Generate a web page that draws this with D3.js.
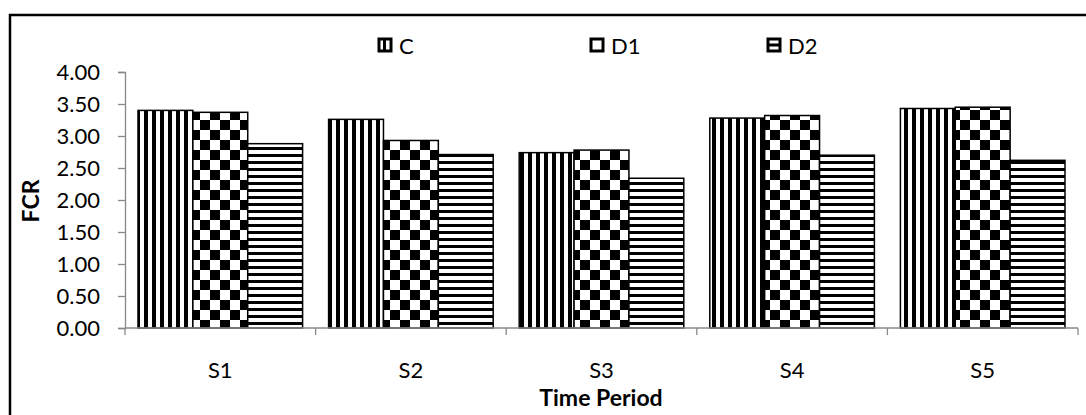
<!DOCTYPE html>
<html><head><meta charset="utf-8">
<script src="https://cdn.jsdelivr.net/npm/d3@7"></script>
<style>body{margin:0;background:#fff;} svg{display:block;font-family:Lato,"Open Sans",sans-serif;}</style>
</head><body>
<svg id="c" width="1086" height="415"></svg>
<script>
const categories = ["S1","S2","S3","S4","S5"];
const seriesNames = ["C","D1","D2"];
const C  = [3.40, 3.26, 2.74, 3.28, 3.43];
const D1 = [3.37, 2.93, 2.78, 3.32, 3.45];
const D2 = [2.88, 2.71, 2.34, 2.70, 2.62];
const yTicks = [0,0.5,1,1.5,2,2.5,3,3.5,4];
const values = [C, D1, D2];

const FS = 22;
const svg = d3.select("#c");
const defs = svg.append("defs");
const pv = defs.append("pattern").attr("id","pv").attr("patternUnits","userSpaceOnUse").attr("width",8).attr("height",8);
pv.append("rect").attr("width",8).attr("height",8).attr("fill","#fff");
pv.append("rect").attr("x",0).attr("width",4).attr("height",8).attr("fill","#000");
const pc = defs.append("pattern").attr("id","pc").attr("patternUnits","userSpaceOnUse").attr("width",20).attr("height",20);
pc.append("rect").attr("width",20).attr("height",20).attr("fill","#fff");
pc.append("rect").attr("x",0).attr("y",0).attr("width",10).attr("height",10).attr("fill","#000");
pc.append("rect").attr("x",10).attr("y",10).attr("width",10).attr("height",10).attr("fill","#000");
const ph = defs.append("pattern").attr("id","ph").attr("patternUnits","userSpaceOnUse").attr("width",7).attr("height",7);
ph.append("rect").attr("width",7).attr("height",7).attr("fill","#fff");
ph.append("rect").attr("y",0).attr("width",7).attr("height",3).attr("fill","#000");
const fills = ["url(#pv)","url(#pc)","url(#ph)"];

svg.append("rect").attr("x",10).attr("y",15).attr("width",1090).attr("height",420)
  .attr("fill","none").attr("stroke","#000").attr("stroke-width",2.5);

const pLeft=125, pRight=1078, pTop=72, pBottom=328;
const x = d3.scaleBand().domain(categories).range([pLeft,pRight]).paddingInner(0).paddingOuter(0);
const x1 = d3.scaleBand().domain(seriesNames).range([0,x.bandwidth()]).paddingOuter(0.237).paddingInner(0);
const y = d3.scaleLinear().domain([0,4]).range([pBottom,pTop]);

categories.forEach((cat,i)=>{
  seriesNames.forEach((s,j)=>{
    svg.append("rect")
      .attr("x", x(cat)+x1(s)).attr("y", y(values[j][i]))
      .attr("width", x1.bandwidth()).attr("height", y(0)-y(values[j][i]))
      .attr("fill", fills[j]).attr("stroke","#000").attr("stroke-width",1.5);
  });
});

const ya = svg.append("g").attr("transform",`translate(${pLeft},0)`)
  .call(d3.axisLeft(y).tickValues(yTicks).tickFormat(d3.format(".2f")).tickSize(7).tickPadding(18));
ya.select(".domain").attr("stroke","#888").attr("stroke-width",1.3);
ya.selectAll(".tick line").attr("stroke","#888").attr("stroke-width",1.3);
ya.selectAll("text").attr("font-size",FS).attr("fill","#000").attr("font-family","Lato,'Open Sans',sans-serif");

const xa = svg.append("g").attr("transform",`translate(0,${pBottom})`);
xa.append("line").attr("x1",pLeft).attr("x2",pRight).attr("y1",0).attr("y2",0).attr("stroke","#888").attr("stroke-width",1.3);
const bounds = categories.map(c=>x(c)).concat([pRight]);
xa.selectAll("line.tk").data(bounds).enter().append("line").attr("class","tk")
  .attr("x1",d=>d).attr("x2",d=>d).attr("y1",0).attr("y2",7).attr("stroke","#888").attr("stroke-width",1.3);
xa.selectAll("text").data(categories).enter().append("text")
  .attr("x",d=>x(d)+x.bandwidth()/2).attr("y",50).attr("text-anchor","middle")
  .attr("font-size",FS).text(d=>d);

svg.append("text").attr("x",601).attr("y",406).attr("text-anchor","middle")
  .attr("font-size",FS+1).attr("font-weight","bold").text("Time Period");
svg.append("text").attr("transform","translate(39,201) rotate(-90)").attr("text-anchor","middle")
  .attr("font-size",FS+1).attr("font-weight","bold").text("FCR");

// legend swatches: white box, thick border, small pattern hint
const legX = [379, 591, 768];
seriesNames.forEach((s,j)=>{
  const g = svg.append("g").attr("transform",`translate(${legX[j]},39)`);
  g.append("rect").attr("x",0).attr("y",0).attr("width",12).attr("height",12)
    .attr("fill","#fff").attr("stroke","#000").attr("stroke-width",3);
  if (j===0) g.append("rect").attr("x",4).attr("y",0).attr("width",3).attr("height",12).attr("fill","#000");
  if (j===2) g.append("rect").attr("x",0).attr("y",4.5).attr("width",12).attr("height",3).attr("fill","#000");
  g.append("text").attr("x",20).attr("y",15).attr("font-size",FS).text(s);
});
</script>
</body></html>
